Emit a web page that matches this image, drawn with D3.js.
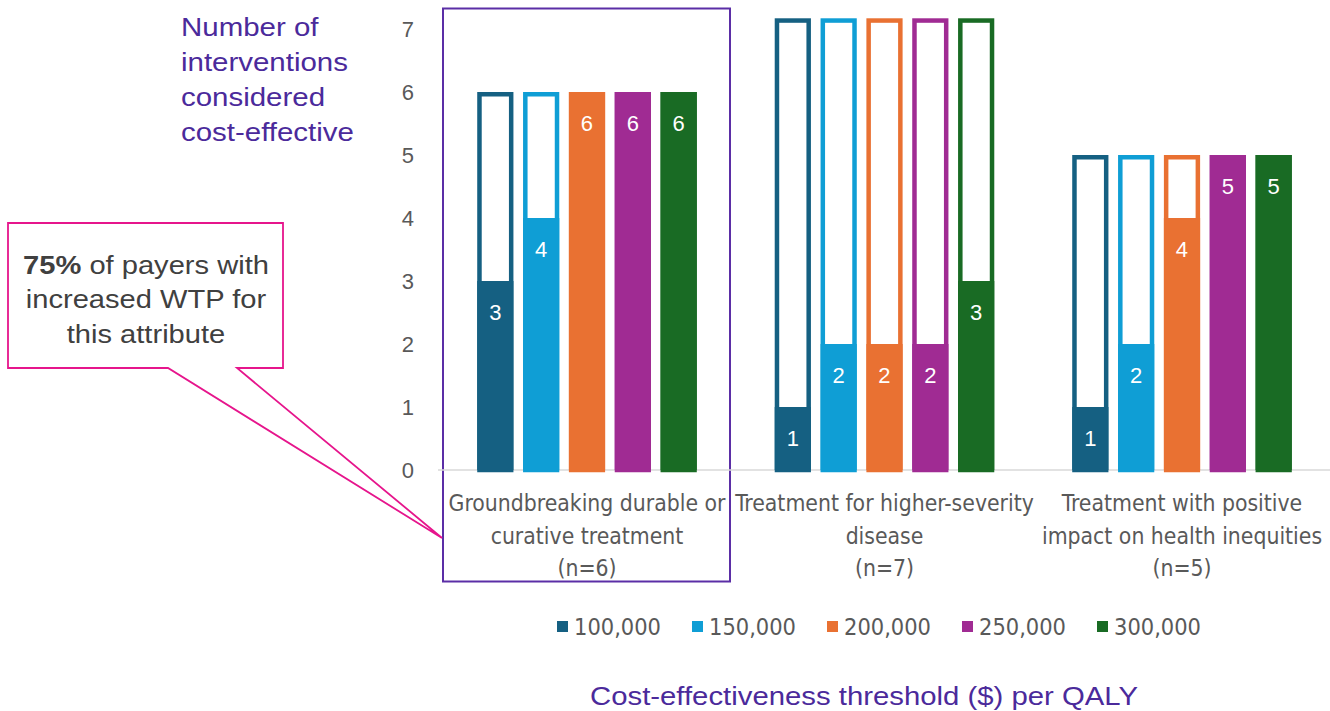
<!DOCTYPE html>
<html><head><meta charset="utf-8">
<script src="https://cdn.jsdelivr.net/npm/d3@7"></script>
<style>html,body{margin:0;padding:0;background:#fff;}svg{display:block;}</style>
</head><body>
<svg id="chart" width="1330" height="711"></svg>
<script>
const categories = [
  ["Groundbreaking durable or", "curative treatment", "(n=6)"],
  ["Treatment for higher-severity", "disease", "(n=7)"],
  ["Treatment with positive", "impact on health inequities", "(n=5)"]
];
const categoryKeys = ["durable", "severity", "inequities"];
const seriesNames = ["100,000", "150,000", "200,000", "250,000", "300,000"];
const seriesColors = ["#156082", "#0F9ED5", "#E97132", "#A02B93", "#196B24"];
const values100 = [3, 1, 1];
const values150 = [4, 2, 2];
const values200 = [6, 2, 4];
const values250 = [6, 2, 5];
const values300 = [6, 3, 5];
const outlineHeights = [6, 7.17, 5];
const yTicks = [0, 1, 2, 3, 4, 5, 6, 7];

const seriesValues = [values100, values150, values200, values250, values300];

const svg = d3.select("#chart");
const gray = "#595959";
const purple = "#4B2A9B";
const narrow = "'Liberation Sans Narrow', 'DejaVu Sans Condensed', Arial, sans-serif";
const sans = "'Liberation Sans', Arial, sans-serif";

const y = d3.scaleLinear().domain([0, 7]).range([470, 29]);
const x0 = d3.scaleBand().domain(categoryKeys).range([438.25, 1330.75]).paddingInner(0.262).paddingOuter(0.131);
const x1 = d3.scaleBand().domain(seriesNames).range([0, x0.bandwidth()]).paddingInner(0.21).paddingOuter(0);

// purple highlight box
svg.append("rect").attr("x", 443).attr("y", 8.5).attr("width", 287).attr("height", 573)
  .attr("fill", "none").attr("stroke", "#5B2EA6").attr("stroke-width", 2);

// y axis (labels only)
const yAxis = d3.axisLeft(y).tickValues(yTicks).tickFormat(d3.format("d")).tickSize(0).tickPadding(0);
const ya = svg.append("g").attr("transform", "translate(414,0)").call(yAxis);
ya.select(".domain").remove();
ya.selectAll("text").attr("fill", gray).style("font-family", sans).style("font-size", "22px");

// baseline
svg.append("line").attr("x1", 438).attr("x2", 1330).attr("y1", y(0)).attr("y2", y(0))
  .attr("stroke", "#D9D9D9").attr("stroke-width", 1.5);

// bars
const sw = 4.5;
categoryKeys.forEach((ck, ci) => {
  const g = svg.append("g").attr("transform", `translate(${x0(ck)},0)`);
  seriesNames.forEach((sn, si) => {
    const bx = x1(sn), bw = x1.bandwidth();
    const v = seriesValues[si][ci];
    const top = outlineHeights[ci];
    g.append("rect")
      .attr("x", bx + sw / 2).attr("width", bw - sw)
      .attr("y", y(top) + sw / 2).attr("height", y(0) - y(top) - sw / 2)
      .attr("fill", "#fff").attr("stroke", seriesColors[si]).attr("stroke-width", sw);
    g.append("rect")
      .attr("x", bx).attr("width", bw)
      .attr("y", y(v)).attr("height", y(0) - y(v))
      .attr("fill", seriesColors[si]);
    g.append("text")
      .attr("x", bx + bw / 2).attr("y", y(v) + 31)
      .attr("text-anchor", "middle").attr("dominant-baseline", "central")
      .attr("fill", "#fff").style("font-family", sans).style("font-size", "22px")
      .text(v);
  });
});

// category labels
const catG = svg.append("g");
categories.forEach((lines, ci) => {
  const cx = x0(categoryKeys[ci]) + x0.bandwidth() / 2;
  lines.forEach((ln, li) => {
    catG.append("text").attr("class", "cat")
      .attr("x", cx).attr("y", 503 + li * 32.5)
      .attr("text-anchor", "middle").attr("dominant-baseline", "central")
      .attr("fill", gray).style("font-family", narrow).style("font-size", "24px")
      .text(ln);
  });
});
(function(){
  const t = catG.select("text.cat").node();
  const w = t.getComputedTextLength();
  const fs = 24 * 277 / w;
  catG.selectAll("text").style("font-size", fs + "px");
})();

// legend
const legendX = [557, 692, 827, 962, 1097];
const lg = svg.append("g");
seriesNames.forEach((sn, si) => {
  lg.append("rect").attr("x", legendX[si]).attr("y", 621).attr("width", 11).attr("height", 11)
    .attr("fill", seriesColors[si]);
  lg.append("text").attr("class", "leg").attr("x", legendX[si] + 17).attr("y", 627)
    .attr("dominant-baseline", "central").attr("fill", gray)
    .style("font-family", narrow).style("font-size", "22px").text(sn);
});
(function(){
  const t = lg.select("text.leg").node();
  const w = t.getComputedTextLength();
  const fs = 22 * 87 / w;
  lg.selectAll("text").style("font-size", fs + "px");
})();

function fitGroup(g, refNode, target, anchorX) {
  const w = refNode.getComputedTextLength();
  const s = target / w;
  g.attr("transform", `translate(${anchorX},0) scale(${s},1) translate(${-anchorX},0)`);
}

// y title
const yt = svg.append("g");
const yLines = ["Number of", "interventions", "considered", "cost-effective"];
yLines.forEach((ln, i) => {
  yt.append("text").attr("x", 181).attr("y", 27 + i * 35)
    .attr("dominant-baseline", "central").attr("fill", purple)
    .style("font-family", sans).style("font-size", "26.5px").text(ln);
});
fitGroup(yt, yt.selectAll("text").nodes()[3], 173, 181);

// x title
const xt = svg.append("g");
const xtText = xt.append("text").attr("x", 864).attr("y", 696).attr("text-anchor", "middle")
  .attr("dominant-baseline", "central").attr("fill", purple)
  .style("font-family", sans).style("font-size", "26.5px")
  .text("Cost-effectiveness threshold ($) per QALY");
fitGroup(xt, xtText.node(), 548, 864);

// callout
const calloutColor = "#E6158C";
svg.append("path")
  .attr("d", "M8,223 L283,223 L283,368 L237,368 L442,538 L168,368 L8,368 Z")
  .attr("fill", "#fff").attr("stroke", calloutColor).attr("stroke-width", 1.8)
  .attr("stroke-linejoin", "miter");
const ct = svg.append("g");
const l1 = ct.append("text").attr("x", 146).attr("y", 264).attr("text-anchor", "middle")
  .attr("dominant-baseline", "central").attr("fill", "#404040")
  .style("font-family", sans).style("font-size", "26.5px");
l1.append("tspan").attr("font-weight", "bold").text("75%");
l1.append("tspan").text(" of payers with");
["increased WTP for", "this attribute"].forEach((ln, i) => {
  ct.append("text").attr("x", 146).attr("y", 299 + i * 35).attr("text-anchor", "middle")
    .attr("dominant-baseline", "central").attr("fill", "#404040")
    .style("font-family", sans).style("font-size", "26.5px").text(ln);
});
fitGroup(ct, l1.node(), 246, 146);
</script>
</body></html>
